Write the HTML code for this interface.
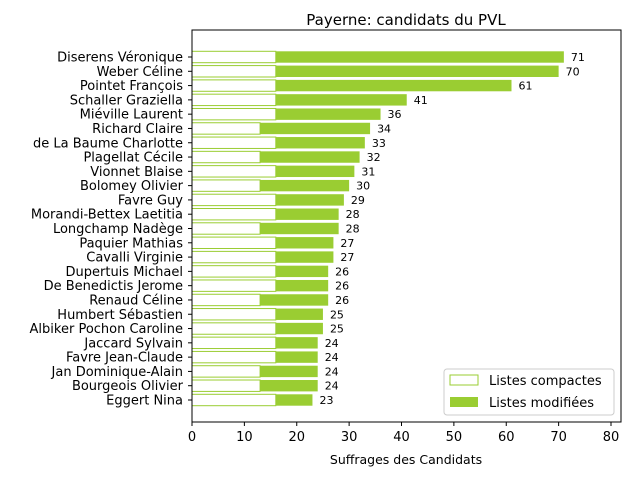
<!DOCTYPE html>
<html><head><meta charset="utf-8"><style>
body{margin:0;background:#fff;font-family:"Liberation Sans","DejaVu Sans",sans-serif}
</style></head><body>
<svg id="chart" width="640" height="480" xmlns="http://www.w3.org/2000/svg" font-family="DejaVu Sans, Liberation Sans, sans-serif">
<text x="406" y="25" text-anchor="middle" font-size="15">Payerne: candidats du PVL</text>
<g id="plot"></g>
<rect x="192" y="30" width="429" height="392" fill="none" stroke="#000" stroke-width="1"/>
<text x="406" y="464" text-anchor="middle" font-size="12.5">Suffrages des Candidats</text>
<g>
<rect x="444" y="369" width="170" height="46" fill="#fff" fill-opacity="0.8" stroke="#ccc" rx="3"/>
<g>
<rect x="450" y="375" width="28" height="10" fill="#fff" stroke="#9acd32"/>
<text x="489" y="385" font-size="13">Listes compactes</text></g>
<g>
<rect x="450" y="397" width="28" height="10" fill="#9acd32"/>
<text x="489" y="407" font-size="13">Listes modifiées</text></g>
</g>
</svg>
<script>
const candidates=["Diserens Véronique","Weber Céline","Pointet François","Schaller Graziella","Miéville Laurent","Richard Claire","de La Baume Charlotte","Plagellat Cécile","Vionnet Blaise","Bolomey Olivier","Favre Guy","Morandi-Bettex Laetitia","Longchamp Nadège","Paquier Mathias","Cavalli Virginie","Dupertuis Michael","De Benedictis Jerome","Renaud Céline","Humbert Sébastien","Albiker Pochon Caroline","Jaccard Sylvain","Favre Jean-Claude","Jan Dominique-Alain","Bourgeois Olivier","Eggert Nina"];
const totals=[71,70,61,41,36,34,33,32,31,30,29,28,28,27,27,26,26,26,25,25,24,24,24,24,23];
const compactes=[16,16,16,16,16,13,16,13,16,13,16,16,13,16,16,16,16,13,16,16,16,16,13,13,16];
const xTicks=[0,10,20,30,40,50,60,70,80];
const NS="http://www.w3.org/2000/svg";
const g=document.getElementById('plot');
const x=v=>192+v*(611-192)/80;
const y=i=>57+i*(400-57)/24;
const bh=11.4;
function mk(t,a){const e=document.createElementNS(NS,t);for(const k in a)e.setAttribute(k,a[k]);g.appendChild(e);return e;}
candidates.forEach((c,i)=>{
 const m=mk('rect',{x:x(compactes[i]),y:y(i)-bh/2,width:x(totals[i])-x(compactes[i]),height:bh,fill:'#9acd32'});
 
 
 const w=mk('rect',{x:x(0),y:y(i)-bh/2,width:x(compactes[i])-x(0),height:bh,fill:'#fff',stroke:'#9acd32','stroke-width':1});
 
 
 const l=mk('text',{x:x(totals[i])+7,y:y(i)+4,'font-size':11});
 l.textContent=totals[i];
 
 
 const t=mk('text',{x:183,y:y(i)+4.5,'text-anchor':'end','font-size':13});
 t.textContent=c;
 
 
 const tk=mk('line',{x1:188,x2:192,y1:y(i),y2:y(i),stroke:'#000'});
 
 
});
xTicks.forEach(v=>{
 const tk=mk('line',{x1:x(v),x2:x(v),y1:422,y2:426,stroke:'#000'});
 
 
 const t=mk('text',{x:x(v),y:441,'text-anchor':'middle','font-size':13});
 t.textContent=v;
 
 
});
</script>
</body></html>
